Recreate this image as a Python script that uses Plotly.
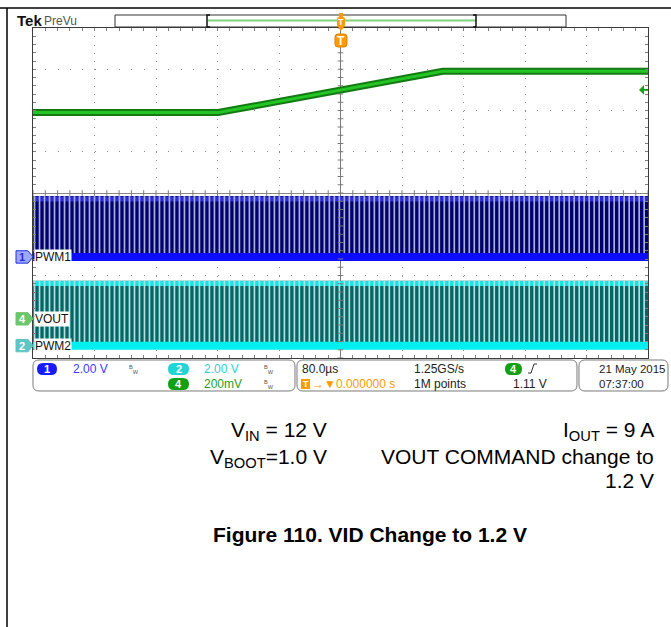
import plotly.graph_objects as go

W, H = 671, 627

# ---- timebase and channel set-up -------------------------------------------
TIME_PER_DIV_US = 80.0
T_RANGE_US = [-400.0, 400.0]
V_RANGE_DIV = [-4.0, 4.0]

# CH4: VOUT, 200 mV/div
VOUT_SCALE_V = 0.2
VOUT_POS_DIV = -3.05
VOUT_T_US = [-400.0, -159.0, 133.0, 400.0]
VOUT_V = [1.00, 1.00, 1.20, 1.20]
TRIG_LEVEL_V = 1.11

# CH1: PWM1, CH2: PWM2, 2 V/div
PWM_SCALE_V = 2.0
PWM1_POS_DIV = -1.55
PWM2_POS_DIV = -3.70
PWM1_HIGH_V = 2.95
PWM2_HIGH_V = 3.15
PWM_LOW_V = 0.0
PWM_PERIOD_US = 6.5


def px(x):
    return x / W


def py(y):
    return 1 - y / H


def to_div(v, scale, pos):
    return v / scale + pos


def rrect_path(x0, y0, x1, y1, r):
    pts = [
        ("M", [(x0 + r, y0)]), ("L", [(x1 - r, y0)]), ("Q", [(x1, y0), (x1, y0 + r)]),
        ("L", [(x1, y1 - r)]), ("Q", [(x1, y1), (x1 - r, y1)]), ("L", [(x0 + r, y1)]),
        ("Q", [(x0, y1), (x0, y1 - r)]), ("L", [(x0, y0 + r)]), ("Q", [(x0, y0), (x0 + r, y0)]),
    ]
    s = ""
    for cmd, ps in pts:
        s += cmd + " " + " ".join(f"{px(a):.5f},{py(b):.5f}" for a, b in ps) + " "
    return s + "Z"


fig = go.Figure()

# ---- PWM channels ------------------------------------------------------------
def add_pwm(pos, high_v, body, stripe, top_band, low_band):
    lo = to_div(PWM_LOW_V, PWM_SCALE_V, pos)
    hi = to_div(high_v, PWM_SCALE_V, pos)
    fig.add_trace(go.Scatter(
        x=[T_RANGE_US[0], T_RANGE_US[1], T_RANGE_US[1], T_RANGE_US[0]],
        y=[lo, lo, hi, hi], fill="toself", fillcolor=body, mode="none",
        hoverinfo="skip", showlegend=False))
    fig.add_trace(go.Scatter(
        x=T_RANGE_US, y=[hi - 0.07, hi - 0.07], mode="lines",
        line=dict(color=top_band, width=5), hoverinfo="skip", showlegend=False))
    xs, ys = [], []
    n = int((T_RANGE_US[1] - T_RANGE_US[0]) / PWM_PERIOD_US)
    for k in range(n):
        t = T_RANGE_US[0] + 2.0 + k * PWM_PERIOD_US
        xs += [t, t, None]
        ys += [lo, hi, None]
    fig.add_trace(go.Scatter(
        x=xs, y=ys, mode="lines", line=dict(color=stripe, width=1.7),
        hoverinfo="skip", showlegend=False))
    fig.add_trace(go.Scatter(
        x=T_RANGE_US, y=[lo, lo], mode="lines",
        line=dict(color=low_band, width=8), hoverinfo="skip", showlegend=False))


add_pwm(PWM1_POS_DIV, PWM1_HIGH_V, "#00006e", "#a9aed8", "#2b2bdc", "#0c0cff")
add_pwm(PWM2_POS_DIV, PWM2_HIGH_V, "#056666", "#b2e0e0", "#10e6e6", "#00f0f0")

# ---- VOUT --------------------------------------------------------------------
vout_div = [to_div(v, VOUT_SCALE_V, VOUT_POS_DIV) for v in VOUT_V]
fig.add_trace(go.Scatter(x=VOUT_T_US, y=vout_div, mode="lines",
                         line=dict(color="#137a13", width=7),
                         hoverinfo="skip", showlegend=False))
fig.add_trace(go.Scatter(x=VOUT_T_US, y=vout_div, mode="lines",
                         line=dict(color="#25c425", width=3),
                         hoverinfo="skip", showlegend=False))

# ---- graticule centre-line ticks ---------------------------------------------
cy = [V_RANGE_DIV[0] + 0.2 * k for k in range(41)]
cx = [T_RANGE_US[0] + TIME_PER_DIV_US / 5 * k for k in range(51)]
fig.add_trace(go.Scatter(x=[0] * len(cy), y=cy, mode="markers",
                         marker=dict(symbol="line-ew", size=4,
                                     line=dict(color="#7a7a7a", width=1)),
                         hoverinfo="skip", showlegend=False))
fig.add_trace(go.Scatter(x=cx, y=[0] * len(cx), mode="markers",
                         marker=dict(symbol="line-ns", size=4,
                                     line=dict(color="#7a7a7a", width=1)),
                         hoverinfo="skip", showlegend=False))

shapes = []
annotations = []


def ann(text, x, y, size=12, color="#000", xanchor="left", yanchor="middle",
        family="Liberation Sans", bg=None, **kw):
    d = dict(text=text, x=px(x), y=py(y), xref="paper", yref="paper",
             showarrow=False, xanchor=xanchor, yanchor=yanchor,
             font=dict(size=size, color=color, family=family))
    if bg:
        d["bgcolor"] = bg
    d.update(kw)
    annotations.append(d)


# page frame
shapes.append(dict(type="line", xref="paper", yref="paper", x0=0, x1=1,
                   y0=py(8), y1=py(8), line=dict(color="#000", width=1.5)))
shapes.append(dict(type="line", xref="paper", yref="paper", x0=px(7), x1=px(7),
                   y0=py(8), y1=0, line=dict(color="#000", width=1.5)))

# header: brand + record view
ann("<b>Tek</b>", 15, 21, size=15, color="#111")
ann("PreVu", 42, 21, size=12, color="#555")
shapes.append(dict(type="rect", xref="paper", yref="paper", x0=px(115), x1=px(566),
                   y0=py(27), y1=py(15), line=dict(color="#333", width=1),
                   fillcolor="white"))
shapes.append(dict(type="line", xref="paper", yref="paper", x0=px(208), x1=px(476),
                   y0=py(20.5), y1=py(20.5), line=dict(color="#7fd17f", width=2)))
for bx, d in ((207, 1), (476, -1)):
    shapes.append(dict(type="path", xref="paper", yref="paper",
                       path=f"M {px(bx + 3 * d)},{py(15)} L {px(bx)},{py(15)} L {px(bx)},{py(27)} L {px(bx + 3 * d)},{py(27)}",
                       line=dict(color="#111", width=1.5)))

# trigger position markers
shapes.append(dict(type="path", xref="paper", yref="paper",
                   path=f"M {px(338)},{py(27)} L {px(344)},{py(27)} L {px(341)},{py(31)} Z",
                   fillcolor="#ff9a00", line=dict(width=0)))
shapes.append(dict(type="path", xref="paper", yref="paper",
                   path=rrect_path(337, 17, 345, 27, 2), fillcolor="#ff9a00",
                   line=dict(width=0)))
shapes.append(dict(type="rect", xref="paper", yref="paper", x0=px(339), x1=px(343),
                   y0=py(17), y1=py(13), fillcolor="#ff9a00", line=dict(width=0)))
ann("<b>T</b>", 341, 22, size=9, color="white", xanchor="center")
shapes.append(dict(type="path", xref="paper", yref="paper",
                   path=rrect_path(335, 34, 347, 47, 3), fillcolor="#ff9a00",
                   line=dict(color="#e08000", width=1)))
ann("<b>T</b>", 341, 40.5, size=12, color="white", xanchor="center")

# trigger level arrow (CH4)
trig_div = to_div(TRIG_LEVEL_V, VOUT_SCALE_V, VOUT_POS_DIV)
shapes.append(dict(type="path", xref="paper", yref="y",
                   path=f"M {px(639)},{trig_div} L {px(644)},{trig_div + 0.12} L {px(644)},{trig_div - 0.12} Z",
                   fillcolor="#19a019", line=dict(width=0)))
shapes.append(dict(type="line", xref="paper", yref="y", x0=px(643), x1=px(648),
                   y0=trig_div, y1=trig_div, line=dict(color="#19a019", width=2)))

# channel ground markers and labels
for num, pos, fill, edge, tcol, label in (
        ("1", PWM1_POS_DIV, "#9fa8ff", "#1f2fe0", "#1f2fe0", "PWM1"),
        ("4", VOUT_POS_DIV, "#6cc66c", "#6cc66c", "white", "VOUT"),
        ("2", PWM2_POS_DIV, "#5fc4c4", "#5fc4c4", "white", "PWM2")):
    hh = 0.15
    shapes.append(dict(type="path", xref="paper", yref="y",
                       path=(f"M {px(16)},{pos + hh} L {px(28)},{pos + hh} L {px(33)},{pos} "
                             f"L {px(28)},{pos - hh} L {px(16)},{pos - hh} Z"),
                       fillcolor=fill, line=dict(color=edge, width=1)))
    annotations.append(dict(text=f"<b>{num}</b>", x=px(22), y=pos, xref="paper", yref="y",
                            showarrow=False, xanchor="center", yanchor="middle",
                            font=dict(size=11, color=tcol, family="Liberation Sans")))
    annotations.append(dict(text=label, x=px(34), y=pos, xref="paper", yref="y",
                            showarrow=False, xanchor="left", yanchor="middle",
                            bgcolor="white", borderpad=0,
                            font=dict(size=12, color="#111", family="Liberation Sans")))

# ---- status bar --------------------------------------------------------------
for x0, x1 in ((33, 295), (297, 577), (579, 668)):
    shapes.append(dict(type="path", xref="paper", yref="paper",
                       path=rrect_path(x0, 360, x1, 391, 6),
                       line=dict(color="#7a7a7a", width=1), fillcolor="white"))

for x0, x1, y0, y1, col, num in ((37, 57, 363, 375, "#1a1aff", "1"),
                                 (168, 189, 363, 375, "#22d4d4", "2"),
                                 (168, 189, 378, 390, "#14a014", "4"),
                                 (505, 522, 363, 375, "#14a014", "4")):
    shapes.append(dict(type="path", xref="paper", yref="paper",
                       path=rrect_path(x0, y0, x1, y1, (y1 - y0) / 2),
                       fillcolor=col, line=dict(width=0)))
    ann(f"<b>{num}</b>", (x0 + x1) / 2, (y0 + y1) / 2, size=11, color="white",
        xanchor="center")

ann("2.00 V", 71, 369, color="#3a3aff")
ann("2.00 V", 202, 369, color="#2cd0d0")
ann("200mV", 202, 384, color="#1ea01e")
for bx, by in ((134, 369), (269, 369), (269, 384)):
    ann("<sup>B</sup><sub>W</sub>", bx, by, size=8, color="#555", xanchor="center")

ann("80.0µs", 300, 369, color="#222")
shapes.append(dict(type="rect", xref="paper", yref="paper", x0=px(301), x1=px(310),
                   y0=py(389), y1=py(379), fillcolor="#ff9a00", line=dict(width=0)))
ann("<b>T</b>", 305.5, 384, size=9, color="white", xanchor="center")
ann("→▼0.000000 s", 310, 384, color="#ff9a00")
ann("1.25GS/s", 412, 369, color="#222")
ann("1M points", 412, 384, color="#222")
shapes.append(dict(type="path", xref="paper", yref="paper",
                   path=f"M {px(528)},{py(373)} L {px(531)},{py(373)} L {px(534)},{py(364)} L {px(537)},{py(364)}",
                   line=dict(color="#333", width=1)))
ann("1.11 V", 511, 384, color="#222")
ann("21 May 2015", 597, 369, size=11.5, color="#222")
ann("07:37:00", 597, 384, size=11.5, color="#222")

# ---- caption text -------------------------------------------------------------
CAP = "Liberation Sans"
ann("V<sub>IN</sub> = 12 V", 329, 431, size=21, xanchor="right", family=CAP)
ann("V<sub>BOOT</sub>=1.0 V", 329, 458, size=21, xanchor="right", family=CAP)
ann("I<sub>OUT</sub> = 9 A", 656, 431, size=21, xanchor="right", family=CAP)
ann("VOUT COMMAND change to", 656, 456, size=21, xanchor="right", family=CAP)
ann("1.2 V", 656, 480, size=21, xanchor="right", family=CAP)
ann("<b>Figure 110. VID Change to 1.2 V</b>", 211, 534, size=21, family=CAP)

fig.update_layout(
    width=W, height=H, margin=dict(l=0, r=0, t=0, b=0),
    paper_bgcolor="white", plot_bgcolor="white", showlegend=False,
    shapes=shapes, annotations=annotations,
    xaxis=dict(domain=[px(33), px(648)], range=T_RANGE_US, dtick=TIME_PER_DIV_US, tick0=0,
               showgrid=True, gridcolor="#8c8c8c", gridwidth=1, griddash="1px,7.25px",
               zeroline=True, zerolinecolor="#7a7a7a", zerolinewidth=1,
               showline=True, linecolor="#3c3c3c", linewidth=1, mirror="ticks",
               ticks="inside", ticklen=3, tickcolor="#808080", showticklabels=False,
               minor=dict(dtick=TIME_PER_DIV_US / 5, tick0=0, ticks="inside", ticklen=3,
                          tickcolor="#808080", showgrid=False),
               fixedrange=True),
    yaxis=dict(domain=[py(358), py(28)], range=V_RANGE_DIV, dtick=1, tick0=0,
               showgrid=True, gridcolor="#8c8c8c", gridwidth=1, griddash="1px,11.3px",
               zeroline=True, zerolinecolor="#8a8a8a", zerolinewidth=1,
               showline=True, linecolor="#3c3c3c", linewidth=1, mirror="ticks",
               ticks="inside", ticklen=3, tickcolor="#808080", showticklabels=False,
               minor=dict(dtick=0.2, tick0=0, ticks="inside", ticklen=3,
                          tickcolor="#808080", showgrid=False),
               fixedrange=True),
)

fig.write_html("out.html")
